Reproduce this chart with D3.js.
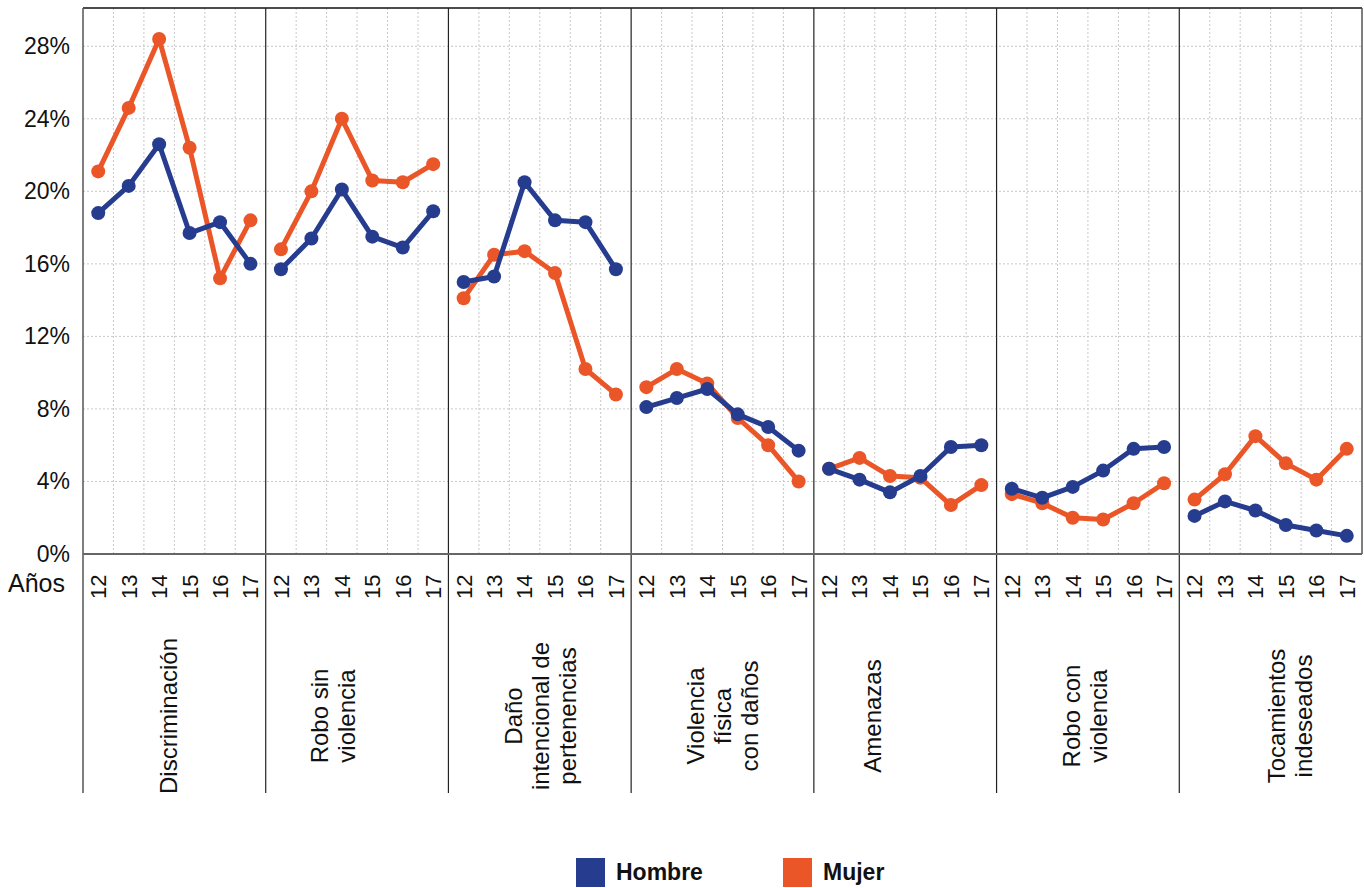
<!DOCTYPE html>
<html>
<head>
<meta charset="utf-8">
<script src="https://cdn.jsdelivr.net/npm/d3@7"></script>
<style>
  body { margin: 0; background: #fff; }
  svg { display: block; font-family: "Liberation Sans", Arial, sans-serif; }
</style>
</head>
<body>
<script>
// ages of the respondents, repeated inside each category
const years = ["12", "13", "14", "15", "16", "17"];
const categories = ["Discriminación", "Robo sin violencia", "Daño intencional de pertenencias",
  "Violencia física con daños", "Amenazas", "Robo con violencia", "Tocamientos indeseados"];
const categoryLines = [["Discriminación"], ["Robo sin", "violencia"], ["Daño", "intencional de", "pertenencias"],
  ["Violencia", "física", "con daños"], ["Amenazas"], ["Robo con", "violencia"], ["Tocamientos", "indeseados"]];
const series = ["Hombre", "Mujer"];
// percentages, one row per category, one value per age
const hombre = [
  [18.8, 20.3, 22.6, 17.7, 18.3, 16.0],
  [15.7, 17.4, 20.1, 17.5, 16.9, 18.9],
  [15.0, 15.3, 20.5, 18.4, 18.3, 15.7],
  [8.1, 8.6, 9.1, 7.7, 7.0, 5.7],
  [4.7, 4.1, 3.4, 4.3, 5.9, 6.0],
  [3.6, 3.1, 3.7, 4.6, 5.8, 5.9],
  [2.1, 2.9, 2.4, 1.6, 1.3, 1.0]
];
const mujer = [
  [21.1, 24.6, 28.4, 22.4, 15.2, 18.4],
  [16.8, 20.0, 24.0, 20.6, 20.5, 21.5],
  [14.1, 16.5, 16.7, 15.5, 10.2, 8.8],
  [9.2, 10.2, 9.4, 7.5, 6.0, 4.0],
  [4.7, 5.3, 4.3, 4.2, 2.7, 3.8],
  [3.3, 2.8, 2.0, 1.9, 2.8, 3.9],
  [3.0, 4.4, 6.5, 5.0, 4.1, 5.8]
];
const yTicks = [0, 4, 8, 12, 16, 20, 24, 28];

const width = 1364, height = 888;
const plotLeft = 83, plotRight = 1362, plotTop = 8, plotBottom = 554;
const colors = { Hombre: "#263c8f", Mujer: "#ea5628" };
// small nudge of each category label from its panel centre (as in the original layout)
const labelDx = [3, -29, -18, -19, -24, -8, 14];

const keys = [];
categories.forEach((c, i) => years.forEach(yr => keys.push(i + "-" + yr)));

const x = d3.scaleBand().domain(keys).range([plotLeft, plotRight]);
const y = d3.scaleLinear().domain([0, 30]).range([plotBottom, plotTop + 2]);
const bw = x.bandwidth();
const panelW = bw * years.length;

const svg = d3.select("body").append("svg")
  .attr("width", width)
  .attr("height", height);

// gridlines
svg.append("g")
  .selectAll("line")
  .data(yTicks.filter(d => d > 0))
  .join("line")
  .attr("x1", plotLeft).attr("x2", plotRight)
  .attr("y1", d => y(d)).attr("y2", d => y(d))
  .attr("stroke", "#c8c8c8")
  .attr("stroke-width", 1)
  .attr("stroke-dasharray", "2,2");

svg.append("g")
  .selectAll("line")
  .data(keys.filter(k => !k.endsWith("-" + years[0])))
  .join("line")
  .attr("x1", d => x(d)).attr("x2", d => x(d))
  .attr("y1", plotTop).attr("y2", plotBottom)
  .attr("stroke", "#c8c8c8")
  .attr("stroke-width", 1)
  .attr("stroke-dasharray", "2,2");

// frame and panel separators
svg.append("line")
  .attr("x1", plotLeft).attr("x2", plotRight)
  .attr("y1", plotTop).attr("y2", plotTop)
  .attr("stroke", "#111").attr("stroke-width", 1.5);

svg.append("g")
  .selectAll("line")
  .data(d3.range(categories.length + 1))
  .join("line")
  .attr("x1", i => plotLeft + i * panelW).attr("x2", i => plotLeft + i * panelW)
  .attr("y1", plotTop).attr("y2", i => i === categories.length ? plotBottom : 793)
  .attr("stroke", i => (i === 0 || i === categories.length) ? "#555" : "#222")
  .attr("stroke-width", i => (i === 0 || i === categories.length) ? 1.5 : 1.2);

svg.append("line")
  .attr("x1", plotLeft).attr("x2", plotRight)
  .attr("y1", plotBottom).attr("y2", plotBottom)
  .attr("stroke", "#666").attr("stroke-width", 2);

// y axis labels
const yAxis = d3.axisLeft(y)
  .tickValues(yTicks)
  .tickFormat(d => d + "%")
  .tickSize(0)
  .tickPadding(13);

svg.append("g")
  .attr("transform", `translate(${plotLeft},0)`)
  .call(yAxis)
  .call(g => g.select(".domain").remove())
  .selectAll("text")
  .attr("font-family", "Liberation Sans, Arial, sans-serif")
  .style("font-size", "23px")
  .attr("fill", "#111");

// age labels, rotated
const xAxis = d3.axisBottom(x)
  .tickFormat(k => k.split("-")[1])
  .tickSize(0);

svg.append("g")
  .attr("transform", `translate(0,${plotBottom})`)
  .call(xAxis)
  .call(g => g.select(".domain").remove())
  .selectAll("text")
  .attr("transform", "rotate(-90)")
  .attr("x", -45)
  .attr("y", 0)
  .attr("dy", "0.36em")
  .style("text-anchor", "start")
  .attr("font-family", "Liberation Sans, Arial, sans-serif")
  .style("font-size", "22px")
  .attr("fill", "#111");

svg.append("text")
  .attr("x", 8)
  .attr("y", 592)
  .text("Años")
  .style("font-size", "25px")
  .attr("fill", "#111");

// category labels
svg.append("g")
  .selectAll("text")
  .data(categoryLines)
  .join("text")
  .attr("transform", (d, i) => `translate(${plotLeft + (i + 0.5) * panelW + labelDx[i]},716) rotate(-90)`)
  .style("text-anchor", "middle")
  .style("font-size", "24px")
  .attr("fill", "#111")
  .selectAll("tspan")
  .data(d => d)
  .join("tspan")
  .attr("x", 0)
  .attr("dy", (d, j) => j === 0 ? 0 : 27)
  .text(d => d);

// series lines and dots, one segment per category
const seriesData = { Hombre: hombre, Mujer: mujer };
const line = d3.line()
  .x(d => x(d.key) + bw / 2)
  .y(d => y(d.value));

["Mujer", "Hombre"].forEach(name => {
  const g = svg.append("g");
  const rows = seriesData[name].map((row, i) =>
    row.map((v, j) => ({ key: i + "-" + years[j], value: v })));
  g.selectAll("path")
    .data(rows)
    .join("path")
    .attr("d", line)
    .attr("fill", "none")
    .attr("stroke", colors[name])
    .attr("stroke-width", 5)
    .attr("stroke-linejoin", "round");
  g.selectAll("circle")
    .data(rows.flat())
    .join("circle")
    .attr("cx", d => x(d.key) + bw / 2)
    .attr("cy", d => y(d.value))
    .attr("r", 7)
    .attr("fill", colors[name]);
});

// legend
const legend = svg.append("g")
  .selectAll("g")
  .data(series)
  .join("g")
  .attr("transform", (d, i) => `translate(${576 + i * 207},858)`);

legend.append("rect")
  .attr("width", 29)
  .attr("height", 29)
  .attr("fill", d => colors[d]);

legend.append("text")
  .attr("x", 40)
  .attr("y", 22)
  .text(d => d)
  .style("font-size", "23px")
  .style("font-weight", "bold")
  .attr("fill", "#111");
</script>
</body>
</html>
